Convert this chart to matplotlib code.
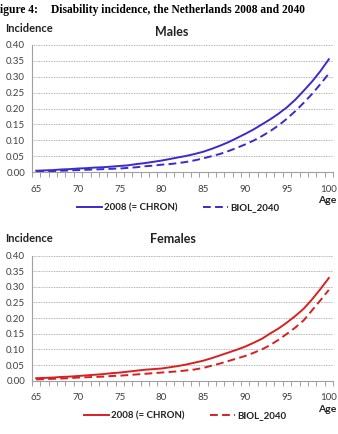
import numpy as np
import matplotlib
matplotlib.use("Agg")
import matplotlib.pyplot as plt

# dane
wiek = list(range(65, 101))

m_2008 = [0.004, 0.005, 0.006, 0.008, 0.009, 0.011, 0.012, 0.014, 0.015, 0.017,
          0.019, 0.021, 0.025, 0.028, 0.032, 0.036, 0.041, 0.046, 0.051, 0.057,
          0.064, 0.073, 0.083, 0.094, 0.107, 0.120, 0.134, 0.150, 0.166, 0.184,
          0.204, 0.228, 0.256, 0.285, 0.318, 0.355]
m_2040 = [0.002, 0.003, 0.003, 0.004, 0.005, 0.006, 0.007, 0.008, 0.009, 0.010,
          0.011, 0.013, 0.015, 0.018, 0.020, 0.023, 0.025, 0.028, 0.032, 0.037,
          0.043, 0.050, 0.057, 0.066, 0.076, 0.087, 0.099, 0.113, 0.129, 0.147,
          0.168, 0.192, 0.218, 0.246, 0.277, 0.310]

f_2008 = [0.008, 0.009, 0.010, 0.012, 0.013, 0.015, 0.017, 0.019, 0.021, 0.024,
          0.026, 0.029, 0.032, 0.035, 0.037, 0.039, 0.043, 0.047, 0.052, 0.058,
          0.064, 0.072, 0.081, 0.090, 0.099, 0.109, 0.121, 0.134, 0.151, 0.167,
          0.186, 0.207, 0.230, 0.260, 0.293, 0.328]
f_2040 = [0.004, 0.005, 0.006, 0.007, 0.008, 0.010, 0.011, 0.012, 0.013, 0.015,
          0.016, 0.018, 0.020, 0.022, 0.024, 0.026, 0.028, 0.030, 0.033, 0.036,
          0.041, 0.048, 0.055, 0.063, 0.071, 0.079, 0.089, 0.100, 0.114, 0.131,
          0.150, 0.170, 0.193, 0.225, 0.257, 0.290]

etykiety = ["2008 (= CHRON)", "BIOL_2040"]
y_ticks = [0.0, 0.05, 0.10, 0.15, 0.20, 0.25, 0.30, 0.35, 0.40]
x_ticks = [65, 70, 75, 80, 85, 90, 95, 100]

plt.rcParams['font.family'] = ['Lato', 'DejaVu Sans']

W, H = 338, 434
fig = plt.figure(figsize=(W / 100, H / 100), dpi=100)

def px(x, y):
    return x / W, 1 - y / H

def panel(top, bottom, dane1, dane2, kolor):
    l, b = px(32, bottom)
    ax = fig.add_axes([l, b, (333 - 32) / W, (bottom - top) / H])
    ax.plot(wiek, dane1, color=kolor, lw=1.4)
    ax.plot(wiek, dane2, color=kolor, lw=1.4, dashes=(4, 2.2))
    ax.set_xlim(64.5, 100.5)
    ax.set_ylim(0, 0.40)
    ax.set_yticks(y_ticks)
    ax.set_yticklabels(["%.2f" % v for v in y_ticks])
    ax.set_xticks(x_ticks)
    ax.set_xticks(np.arange(64.5, 101, 1.0), minor=True)
    ax.tick_params(axis='x', which='major', length=0, pad=9, labelsize=7, colors='#404040')
    ax.tick_params(axis='x', which='minor', length=3.5, direction='out', color='#a0a0a0', width=0.7)
    ax.tick_params(axis='y', length=0, pad=5, labelsize=7, colors='#404040')
    ax.grid(axis='y', color='#9a9a9a', linestyle=(0, (1, 1)), lw=0.6)
    ax.set_axisbelow(True)
    for s in ['top', 'right']:
        ax.spines[s].set_visible(False)
    for s in ['left', 'bottom']:
        ax.spines[s].set_color('#a0a0a0')
        ax.spines[s].set_linewidth(0.8)
    return ax

# tytul (w oryginale "F" jest uciete)
fig.text(*px(0, 10), "igure 4:", family='Liberation Serif', weight='bold',
         fontsize=8.3, va='center', ha='left')
fig.text(*px(51, 10), "Disability incidence, the Netherlands 2008 and 2040",
         family='Liberation Serif', weight='bold', fontsize=8.3, va='center', ha='left')

# Males
ax1 = panel(45, 172, m_2008, m_2040, '#3a2bcc')
fig.text(*px(5, 28), "Incidence", weight='bold', fontsize=8, va='center', ha='left', color='#222222')
fig.text(*px(172, 32), "Males", weight='bold', fontsize=9, va='center', ha='center', color='#222222')
fig.text(*px(318, 201), "Age", weight='bold', fontsize=7.5, va='center', ha='left', color='#222222')
h1 = ax1.get_lines()
fig.legend(h1, etykiety, loc='center', bbox_to_anchor=px(178, 208), ncol=2, frameon=False,
           prop={'size': 7, 'weight': 'bold'}, handlelength=2.6, handletextpad=0.2,
           columnspacing=2.6, labelcolor='#222222')

# Females
ax2 = panel(255.5, 380.7, f_2008, f_2040, '#d82020')
fig.text(*px(5, 239), "Incidence", weight='bold', fontsize=8, va='center', ha='left', color='#222222')
fig.text(*px(173, 239), "Females", weight='bold', fontsize=9, va='center', ha='center', color='#222222')
fig.text(*px(318, 410), "Age", weight='bold', fontsize=7.5, va='center', ha='left', color='#222222')
h2 = ax2.get_lines()
fig.legend(h2, etykiety, loc='center', bbox_to_anchor=px(185, 416), ncol=2, frameon=False,
           prop={'size': 7, 'weight': 'bold'}, handlelength=2.6, handletextpad=0.2,
           columnspacing=2.6, labelcolor='#222222')

plt.savefig('out.png', dpi=100)
